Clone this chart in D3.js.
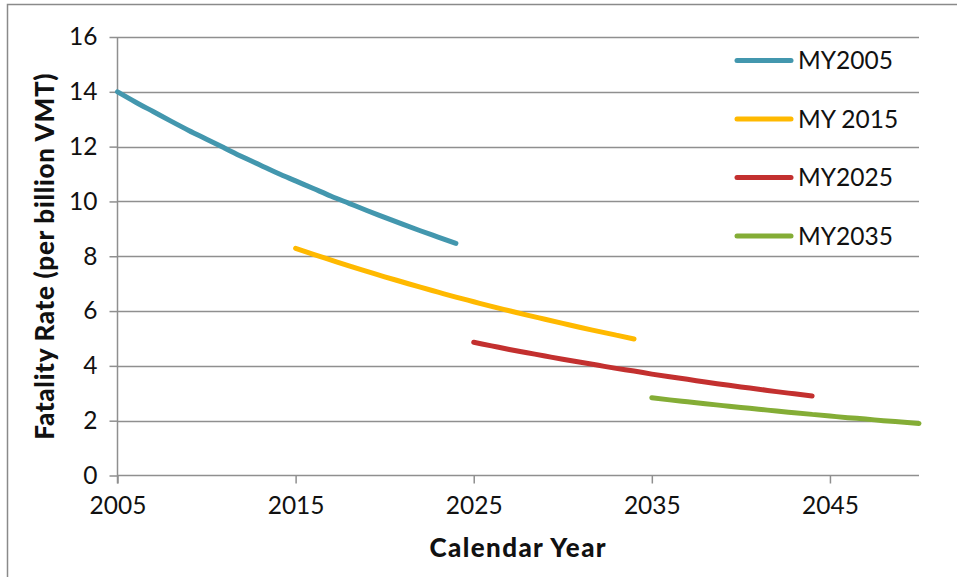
<!DOCTYPE html>
<html><head><meta charset="utf-8">
<script src="https://cdn.jsdelivr.net/npm/d3@7"></script>
<style>
html,body{margin:0;padding:0;background:#fff;}
svg{display:block;}
text{font-family:Lato,"Open Sans",sans-serif;fill:#111;}
</style></head><body>
<svg id="chart" width="957" height="577"></svg>
<script>
const yearsMY2005 = [2005,2006,2007,2008,2009,2010,2011,2012,2013,2014,2015,2016,2017,2018,2019,2020,2021,2022,2023,2024];
const valuesMY2005 = [14.00,13.63,13.28,12.93,12.59,12.27,11.95,11.63,11.33,11.03,10.75,10.47,10.19,9.93,9.67,9.42,9.17,8.93,8.70,8.47];
const yearsMY2015 = [2015,2016,2017,2018,2019,2020,2021,2022,2023,2024,2025,2026,2027,2028,2029,2030,2031,2032,2033,2034];
const valuesMY2015 = [8.29,8.07,7.86,7.65,7.45,7.25,7.06,6.87,6.69,6.51,6.34,6.17,6.01,5.85,5.70,5.55,5.40,5.26,5.12,4.98];
const yearsMY2025 = [2025,2026,2027,2028,2029,2030,2031,2032,2033,2034,2035,2036,2037,2038,2039,2040,2041,2042,2043,2044];
const valuesMY2025 = [4.86,4.73,4.60,4.48,4.36,4.24,4.13,4.02,3.91,3.81,3.70,3.60,3.51,3.41,3.32,3.23,3.15,3.06,2.98,2.90];
const yearsMY2035 = [2035,2036,2037,2038,2039,2040,2041,2042,2043,2044,2045,2046,2047,2048,2049,2050];
const valuesMY2035 = [2.84,2.76,2.69,2.62,2.55,2.48,2.42,2.35,2.29,2.23,2.17,2.11,2.06,2.00,1.95,1.90];
const seriesNames = ["MY2005","MY 2015","MY2025","MY2035"];
const seriesColors = ["#4397ae","#ffb900","#c3302f","#84ad36"];
const xTickLabels = [2005,2015,2025,2035,2045];
const yTickLabels = [0,2,4,6,8,10,12,14,16];
const xTitle = "Calendar Year";
const yTitle = "Fatality Rate (per billion VMT)";

const series = [
  {name: seriesNames[0], color: seriesColors[0], years: yearsMY2005, values: valuesMY2005},
  {name: seriesNames[1], color: seriesColors[1], years: yearsMY2015, values: valuesMY2015},
  {name: seriesNames[2], color: seriesColors[2], years: yearsMY2025, values: valuesMY2025},
  {name: seriesNames[3], color: seriesColors[3], years: yearsMY2035, values: valuesMY2035}
];

const svg = d3.select("#chart");
const pLeft = 117.5, pRight = 919, pTop = 37, pBottom = 475.5;
const x = d3.scaleLinear().domain([2005, 2050]).range([pLeft, pRight]);
const y = d3.scaleLinear().domain([0, 16]).range([pBottom, pTop]);
const gridColor = "#8f8f8f";

// outer frame
svg.append("rect").attr("x", 7.5).attr("y", 4.5).attr("width", 980).attr("height", 600)
  .attr("fill", "none").attr("stroke", "#8a8a8a").attr("stroke-width", 1.5);

// gridlines
svg.append("g").selectAll("line").data(yTickLabels.filter(d => d > 0)).join("line")
  .attr("x1", pLeft).attr("x2", pRight)
  .attr("y1", d => Math.round(y(d)) + 0.5).attr("y2", d => Math.round(y(d)) + 0.5)
  .attr("stroke", gridColor).attr("stroke-width", 1.5);

// y axis
const yAxis = svg.append("g").attr("transform", `translate(${pLeft},0)`)
  .call(d3.axisLeft(y).tickValues(yTickLabels).tickSize(8).tickPadding(12).tickFormat(d3.format("d")));
// x axis
const xAxis = svg.append("g").attr("transform", `translate(0,${pBottom})`)
  .call(d3.axisBottom(x).tickValues(xTickLabels).tickSize(8).tickPadding(13).tickFormat(d3.format("d")));
xAxis.select(".domain").attr("d", `M${pLeft},0H${pRight}`);
yAxis.select(".domain").attr("d", `M0,${pTop}V${pBottom + 8}`);
[yAxis, xAxis].forEach(g => {
  g.select(".domain").attr("stroke", gridColor).attr("stroke-width", 1.5);
  g.selectAll(".tick line").attr("stroke", gridColor).attr("stroke-width", 1.5);
  g.selectAll(".tick text").attr("font-family", "Lato, sans-serif").attr("font-size", 24.5).attr("fill", "#111");
});

// lines
const line = d3.line().x(d => x(d[0])).y(d => y(d[1])).curve(d3.curveMonotoneX);
series.forEach(s => {
  svg.append("path").datum(s.years.map((yr, i) => [yr, s.values[i]]))
    .attr("d", line).attr("fill", "none").attr("stroke", s.color)
    .attr("stroke-width", 5).attr("stroke-linecap", "round").attr("stroke-linejoin", "round");
});

// legend
const legend = svg.append("g");
series.forEach((s, i) => {
  const ly = 60.5 + i * 58.5;
  legend.append("line").attr("x1", 737).attr("x2", 791).attr("y1", ly).attr("y2", ly)
    .attr("stroke", s.color).attr("stroke-width", 5).attr("stroke-linecap", "round");
  legend.append("text").attr("x", 798).attr("y", ly).attr("dy", "0.36em")
    .attr("font-size", 24.5).text(s.name);
});

// axis titles
svg.append("text").attr("x", (pLeft + pRight) / 2).attr("y", 557).attr("text-anchor", "middle")
  .attr("font-weight", 900).attr("font-size", 26).attr("letter-spacing", 1.4).text(xTitle);
svg.append("text").attr("transform", `translate(54,${(pTop + pBottom) / 2}) rotate(-90)`)
  .attr("text-anchor", "middle").attr("font-weight", 900).attr("font-size", 26).attr("letter-spacing", 0.7).text(yTitle);
</script>
</body></html>
